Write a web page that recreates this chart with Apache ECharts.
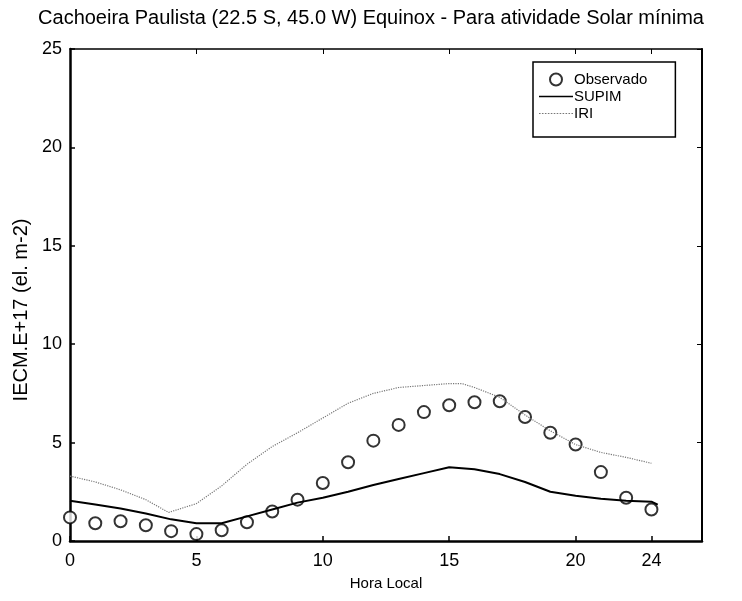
<!DOCTYPE html>
<html>
<head>
<meta charset="utf-8">
<script src="https://cdn.jsdelivr.net/npm/echarts@6/dist/echarts.min.js"></script>
<style>html,body{margin:0;padding:0;background:#fff}#c{width:742px;height:601px}</style>
</head>
<body>
<div id="c"></div>
<script>
var titleText = 'Cachoeira Paulista (22.5 S, 45.0 W) Equinox - Para atividade Solar mínima';
var xName = 'Hora Local';
var yName = 'IECM.E+17 (el. m-2)';
var xTicks = [0, 5, 10, 15, 20, 23];
var xTickLabels = ['0', '5', '10', '15', '20', '24'];
var yTicks = [0, 5, 10, 15, 20, 25];

var obsHours = [0,1,2,3,4,5,6,7,8,9,10,11,12,13,14,15,16,17,18,19,20,21,22,23];
var obsValues = [1.2,0.9,1.0,0.8,0.5,0.35,0.55,0.95,1.5,2.1,2.95,4.0,5.1,5.9,6.55,6.9,7.05,7.1,6.3,5.5,4.9,3.5,2.2,1.6];

var supimHours = [0,1,2,3,4,5,6,7,8,9,10,11,12,13,14,15,16,17,18,19,20,21,22,23,23.25];
var supimValues = [2.05,1.85,1.65,1.4,1.1,0.9,0.9,1.25,1.6,1.95,2.2,2.5,2.85,3.15,3.45,3.75,3.65,3.4,3.0,2.5,2.3,2.15,2.05,2.0,1.85];

var iriHours = [0,1,2,3,3.9,5,6,7,8,9,10,11,12,13,14,15,15.5,16,17,18,19,20,21,22,23];
var iriValues = [3.3,3.0,2.6,2.1,1.45,1.9,2.8,3.9,4.8,5.5,6.25,7.0,7.5,7.8,7.9,8.0,8.0,7.8,7.3,6.4,5.6,4.9,4.5,4.25,3.95];

function pairs(xs, ys){ return xs.map(function(x,i){ return [x, ys[i]]; }); }

// legend icon shapes (thin line inside a 34x12 box)
var frame = 'M0,0L34,0L34,0.01L0,0.01Z M0,12L34,12L34,12.01L0,12.01Z ';
var solidIcon = 'path://' + frame + 'M0,5.2L34,5.2L34,6.8L0,6.8Z';
var dotIcon = 'path://' + frame;
for (var k = 0; k < 34; k += 3) { dotIcon += 'M' + k + ',5.5L' + (k+1.6) + ',5.5L' + (k+1.6) + ',6.6L' + k + ',6.6Z '; }

var chart = echarts.init(document.getElementById('c'), null, {renderer:'canvas'});
var font = 'Liberation Sans, Arial, sans-serif';
var option = {
  backgroundColor:'#fff',
  animation:false,
  title:{text:titleText, left:'center', top:3,
    textStyle:{fontFamily:font, fontSize:20, fontWeight:'normal', color:'#000'}},
  grid:{left:70, right:40, top:49, bottom:60},
  legend:{
    orient:'vertical', left:533, top:62,
    data:[{name:'Observado'},{name:'SUPIM', icon:solidIcon},{name:'IRI', icon:dotIcon}],
    itemWidth:34, itemHeight:12, itemGap:2,
    borderColor:'#000', borderWidth:1.5, padding:[10,28,16,6],
    textStyle:{fontFamily:font, fontSize:15, lineHeight:13, color:'#000', padding:[0,0,0,-4]},
    backgroundColor:'#fff'
  },
  xAxis:[{
    type:'value', min:0, max:25, name:xName, nameLocation:'middle', nameGap:35,
    nameTextStyle:{fontFamily:font, fontSize:15, color:'#000'},
    axisLine:{show:true, onZero:false, lineStyle:{color:'#000', width:2.5}},
    axisTick:{show:true, inside:true, length:5, customValues:xTicks, lineStyle:{color:'#000', width:1.5}},
    axisLabel:{customValues:xTicks, margin:11, fontFamily:font, fontSize:18, color:'#000',
      formatter:function(v){ var i = xTicks.indexOf(v); return i>=0 ? xTickLabels[i] : ''; }},
    splitLine:{show:false}
  },{
    type:'value', min:0, max:25, position:'top',
    axisLine:{show:true, onZero:false, lineStyle:{color:'#000', width:1.5}},
    axisTick:{show:true, inside:true, length:5, customValues:xTicks, lineStyle:{color:'#000'}},
    axisLabel:{show:false}, splitLine:{show:false}
  }],
  yAxis:[{
    type:'value', min:0, max:25, interval:5, name:yName, nameLocation:'middle', nameGap:39,
    nameTextStyle:{fontFamily:font, fontSize:20, color:'#000', padding:[0,30,0,0]},
    axisLine:{show:true, onZero:false, lineStyle:{color:'#000', width:2.5}},
    axisTick:{show:true, inside:true, length:5, lineStyle:{color:'#000', width:1.5}},
    axisLabel:{margin:8, fontFamily:font, fontSize:18, color:'#000'},
    splitLine:{show:false}
  },{
    type:'value', min:0, max:25, interval:5, position:'right',
    axisLine:{show:true, onZero:false, lineStyle:{color:'#000', width:2}},
    axisTick:{show:true, inside:true, length:5, lineStyle:{color:'#000'}},
    axisLabel:{show:false}, splitLine:{show:false}
  }],
  series:[
    {name:'Observado', type:'scatter', data:pairs(obsHours, obsValues),
      symbol:'emptyCircle', symbolSize:12,
      itemStyle:{color:'#000', borderColor:'#000', borderWidth:1.6}},
    {name:'SUPIM', type:'line', data:pairs(supimHours, supimValues), showSymbol:false, symbol:'none',
      lineStyle:{color:'#000', width:2}, itemStyle:{color:'#000'}},
    {name:'IRI', type:'line', data:pairs(iriHours, iriValues), showSymbol:false, symbol:'none',
      lineStyle:{color:'#777', width:1.2, type:'dotted'}, itemStyle:{color:'#777'}}
  ]
};
chart.setOption(option);
</script>
</body>
</html>
